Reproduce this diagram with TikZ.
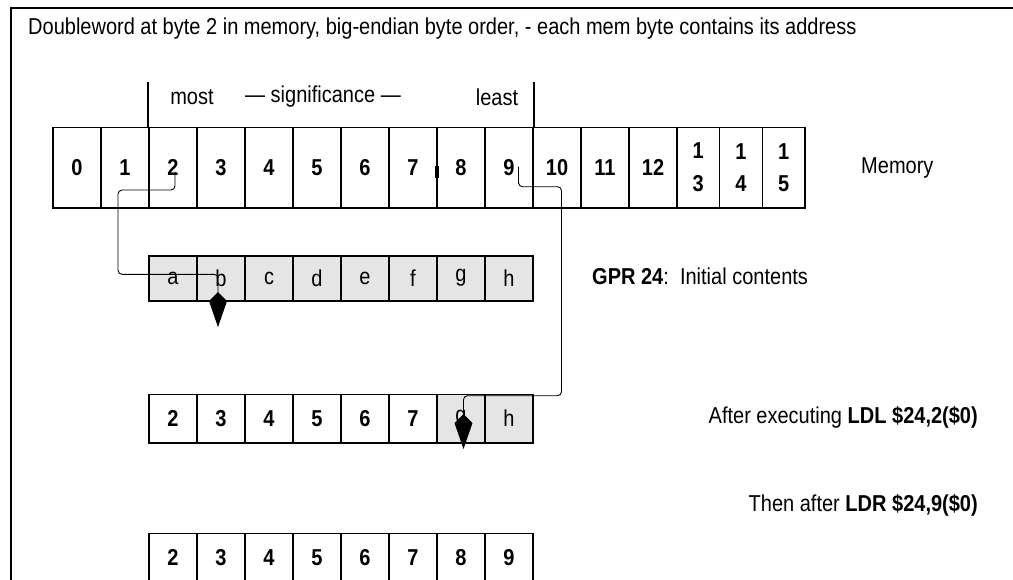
\documentclass[tikz,border=0pt]{standalone}
\usepackage{fontspec}
\setmainfont[FakeStretch=0.87]{Liberation Sans}
\usetikzlibrary{arrows.meta}
\begin{document}
\begin{tikzpicture}[x=1pt,y=-1pt,
  txt/.style={font=\fontsize{23}{27.6}\selectfont, inner sep=0pt},
  cell/.style={draw, line width=1.6pt, minimum width=48pt, inner sep=0pt, font=\fontsize{23}{27.6}\selectfont\bfseries},
  gcell/.style={cell, fill=gray!20, font=\fontsize{23}{27.6}\selectfont},
  conn/.style={line width=0.9pt, rounded corners=4pt},
  tip/.style={-{Kite[length=35pt,width=18pt,inset=9pt]}},
  frame/.style={line width=2pt},
  tick/.style={line width=1.6pt}]
\useasboundingbox (0,0) rectangle (1013,579);
% frame (cropped)
\draw[frame] (11,580) -- (11,8) -- (1014,8);
% title
\node[txt, anchor=west] (title) at (28,29) {Doubleword at byte 2 in memory, big-endian byte order, - each mem byte contains its address};
% memory row
\foreach \i in {0,...,12}
  \node[cell, minimum height=80.4pt] (m\i) at ({77+48*\i},167.5) {\i};
\node[cell, minimum width=42.67pt, minimum height=80.4pt, align=center] (m13) at (698.3,167.5) {1\\[5pt]3};
\node[cell, minimum width=42.67pt, minimum height=80.4pt, align=center] (m14) at (741,167.5) {1\\[5pt]4};
\node[cell, minimum width=42.67pt, minimum height=80.4pt, align=center] (m15) at (783.7,167.5) {1\\[5pt]5};
\node[txt, anchor=west] (memlbl) at (861,167.5) {Memory};
% significance
\draw[tick] (m2.north west) -- ++(0,-45);
\draw[tick] (m9.north east) -- ++(0,-45);
\node[txt] (most) at (192,97) {most};
\node[txt] (sig) at (323,97) {— significance —};
\node[txt] (least) at (497,97) {least};
\fill (434.5,166) rectangle (439,178);
% GPR initial
\foreach \c [count=\k from 2] in {a,b,c,d,e,f,g,h}
  \node[gcell, minimum height=45pt] (g\k) at ({173+48*(\k-2)},278.2) {\c};
\node[txt, anchor=west] (gprlbl) at (592,276) {\textbf{GPR 24}:\ \ Initial contents};
% after LDL
\foreach \i in {2,...,7}
  \node[cell, minimum height=48.4pt] (l\i) at ({173+48*(\i-2)},418.5) {\i};
\node[gcell, minimum height=48.4pt] (l8) at (461,418.5) {g};
\node[gcell, minimum height=48.4pt] (l9) at (509,418.5) {h};
\node[txt, anchor=east] (ldllbl) at (978,417) {After executing \textbf{LDL \$24,2(\$0)}};
% after LDR
\foreach \i in {2,...,9}
  \node[cell, minimum height=48.4pt] (f\i) at ({173+48*(\i-2)},557.5) {\i};
\node[txt, anchor=east] (ldrlbl) at (978,505) {Then after \textbf{LDR \$24,9(\$0)}};
% connectors
\coordinate (s1) at ([xshift=2pt,yshift=-4pt]m2.center);
\draw[conn, tip] (s1) -- (175,190) -- (118,190) -- (118,274.3) -- (218,274.3) -- (218,327);
\coordinate (s2) at ([xshift=9.5pt,yshift=1pt]m9.center);
\draw[conn, tip] (s2) -- (518.5,186.7) -- (561.5,186.7) -- (561.5,395.7) -- (463.5,395.7) -- (463.5,449);
\end{tikzpicture}
\end{document}
